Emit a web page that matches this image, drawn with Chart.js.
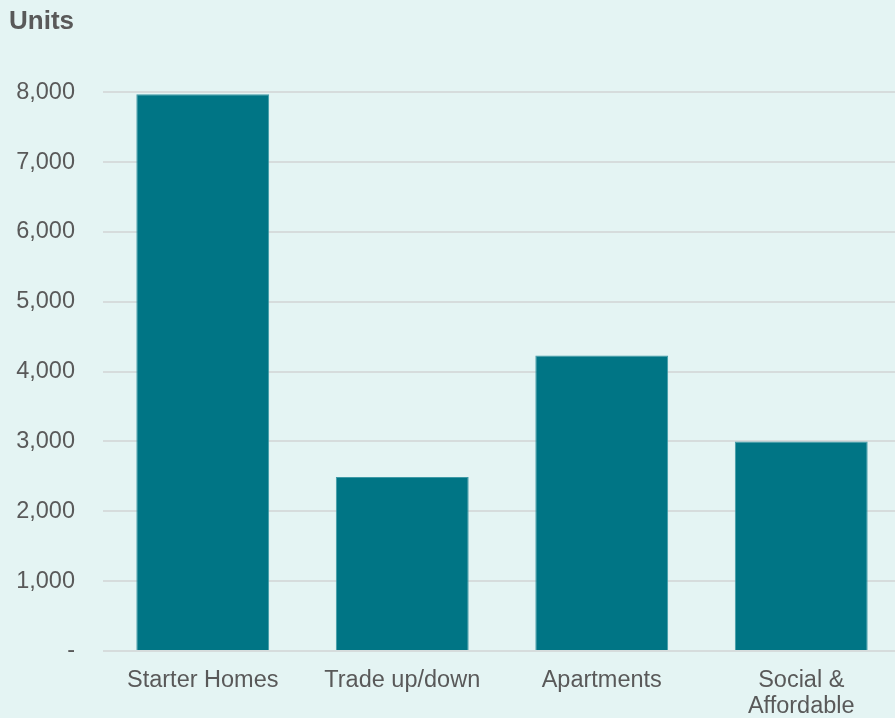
<!DOCTYPE html>
<html>
<head>
<meta charset="utf-8">
<script src="https://cdn.jsdelivr.net/npm/chart.js@4"></script>
<style>
  html, body { margin: 0; padding: 0; background: #e4f4f3; overflow: hidden; }
  #wrap { width: 901px; height: 718px; }
</style>
</head>
<body>
<div id="wrap"><canvas id="unitsChart"></canvas></div>
<script>
const categories = ["Starter Homes", "Trade up/down", "Apartments", ["Social &", "Affordable"]];
const units = [7970, 2490, 4230, 3000];
const yTicks = [0, 1000, 2000, 3000, 4000, 5000, 6000, 7000, 8000];

const textColor = "#595959";
const font = "'Liberation Sans', Arial, sans-serif";

const ctx = document.getElementById("unitsChart").getContext("2d");
new Chart(ctx, {
  type: "bar",
  data: {
    labels: categories,
    datasets: [{
      label: "Units",
      data: units,
      backgroundColor: "#007585",
      borderColor: "#3f9aa6",
      borderWidth: 1,
      categoryPercentage: 0.666,
      barPercentage: 1
    }]
  },
  options: {
    responsive: true,
    maintainAspectRatio: false,
    animation: false,
    layout: { padding: { left: 9, right: 0, top: 0, bottom: 0 } },
    plugins: {
      legend: { display: false },
      tooltip: { enabled: false },
      title: {
        display: true,
        text: "Units",
        align: "start",
        color: textColor,
        font: { family: font, size: 26, weight: "bold", lineHeight: 1.2 },
        padding: { top: 6, bottom: 55 }
      }
    },
    scales: {
      x: {
        grid: { display: false, drawTicks: false },
        border: { display: false },
        ticks: {
          color: textColor,
          font: { family: font, size: 23.5, lineHeight: 1.12 },
          padding: 16,
          maxRotation: 0,
          autoSkip: false
        },
        afterFit: (scale) => { scale.height = 67; }
      },
      y: {
        min: 0,
        max: 8000,
        afterBuildTicks: (scale) => { scale.ticks = yTicks.map(v => ({ value: v })); },
        grid: { color: "#d6dcdc", lineWidth: 2, drawTicks: false },
        border: { display: false },
        ticks: {
          color: textColor,
          font: { family: font, size: 23.5 },
          padding: 28,
          callback: (v) => v === 0 ? "-" : v.toLocaleString("en-US")
        },
        afterFit: (scale) => { scale.width = 94; }
      }
    }
  }
});
</script>
</body>
</html>
